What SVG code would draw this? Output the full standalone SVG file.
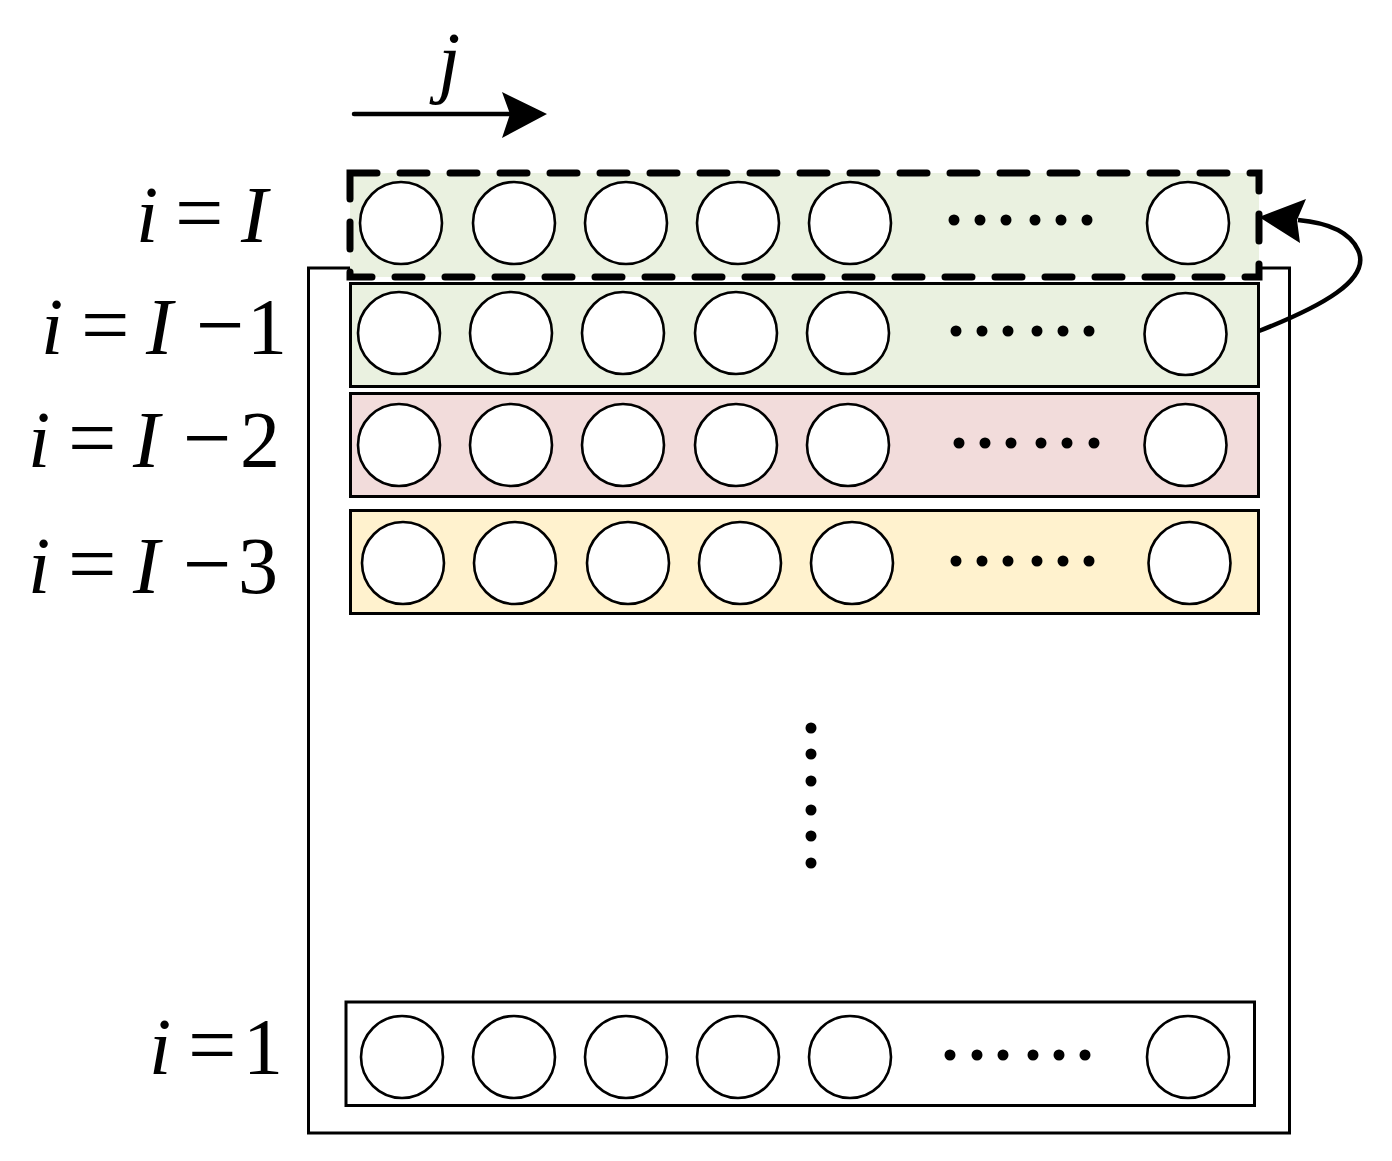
<svg xmlns="http://www.w3.org/2000/svg" width="1392" height="1161" viewBox="0 0 1392 1161">
<style>
.row{stroke:#000;stroke-width:3}
.c{fill:#fff;stroke:#000;stroke-width:2.6}
.d{fill:#000}
text{font-family:"Liberation Serif","Times New Roman",serif;font-size:80px;fill:#000}
.it{font-style:italic}
.con{fill:none;stroke:#000}
</style>
<rect width="1392" height="1161" fill="#fff"/>
<g id="frame"><rect x="308.5" y="268" width="981" height="865" fill="none" stroke="#000" stroke-width="3"/></g>

<g id="row-I">
<rect x="350" y="173" width="909" height="104" fill="#EAF1E0"/>
<rect x="350" y="173" width="909" height="104" fill="none" stroke="#000" stroke-width="7" stroke-linecap="round" stroke-dasharray="27 23"/>
<circle class="c" cx="401" cy="223" r="41"/><circle class="c" cx="514" cy="223" r="41"/><circle class="c" cx="626" cy="223" r="41"/><circle class="c" cx="738" cy="223" r="41"/><circle class="c" cx="850" cy="223" r="41"/><circle class="c" cx="1188" cy="223" r="41"/>
<circle class="d" cx="954" cy="220" r="5.5"/><circle class="d" cx="980" cy="220" r="5.5"/><circle class="d" cx="1006" cy="220" r="5.5"/><circle class="d" cx="1035" cy="220" r="5.5"/><circle class="d" cx="1061" cy="220" r="5.5"/><circle class="d" cx="1087" cy="220" r="5.5"/>
</g>

<g id="row-I-1">
<rect class="row" x="350.5" y="283.5" width="908" height="103" fill="#EAF1E0"/>
<circle class="c" cx="399" cy="333" r="41"/><circle class="c" cx="511" cy="333" r="41"/><circle class="c" cx="623" cy="333" r="41"/><circle class="c" cx="736" cy="333" r="41"/><circle class="c" cx="848" cy="333" r="41"/><circle class="c" cx="1185.5" cy="334" r="41"/>
<circle class="d" cx="956" cy="331" r="5.5"/><circle class="d" cx="982" cy="331" r="5.5"/><circle class="d" cx="1008" cy="331" r="5.5"/><circle class="d" cx="1037" cy="331" r="5.5"/><circle class="d" cx="1063" cy="331" r="5.5"/><circle class="d" cx="1089" cy="331" r="5.5"/>
</g>

<g id="row-I-2">
<rect class="row" x="350.5" y="393.5" width="908" height="103" fill="#F2DCDB"/>
<circle class="c" cx="399" cy="445" r="41"/><circle class="c" cx="511" cy="445" r="41"/><circle class="c" cx="623" cy="445" r="41"/><circle class="c" cx="736" cy="445" r="41"/><circle class="c" cx="848" cy="445" r="41"/><circle class="c" cx="1185.5" cy="445" r="41"/>
<circle class="d" cx="959" cy="443" r="5.5"/><circle class="d" cx="985" cy="443" r="5.5"/><circle class="d" cx="1011" cy="443" r="5.5"/><circle class="d" cx="1041" cy="443" r="5.5"/><circle class="d" cx="1067" cy="443" r="5.5"/><circle class="d" cx="1094" cy="443" r="5.5"/>
</g>

<g id="row-I-3">
<rect class="row" x="350.5" y="510.5" width="908" height="103" fill="#FFF2CE"/>
<circle class="c" cx="403" cy="563" r="41"/><circle class="c" cx="515" cy="563" r="41"/><circle class="c" cx="628" cy="563" r="41"/><circle class="c" cx="740" cy="563" r="41"/><circle class="c" cx="852" cy="563" r="41"/><circle class="c" cx="1189.5" cy="563" r="41"/>
<circle class="d" cx="956" cy="561" r="5.5"/><circle class="d" cx="982" cy="561" r="5.5"/><circle class="d" cx="1008" cy="561" r="5.5"/><circle class="d" cx="1037" cy="561" r="5.5"/><circle class="d" cx="1063" cy="561" r="5.5"/><circle class="d" cx="1089" cy="561" r="5.5"/>
</g>

<g id="vdots">
<circle class="d" cx="811" cy="728" r="5.5"/><circle class="d" cx="811" cy="754" r="5.5"/><circle class="d" cx="811" cy="781" r="5.5"/><circle class="d" cx="811" cy="810" r="5.5"/><circle class="d" cx="811" cy="836" r="5.5"/><circle class="d" cx="811" cy="863" r="5.5"/>
</g>

<g id="row-1">
<rect class="row" x="346" y="1002" width="908.5" height="103.5" fill="#fff"/>
<circle class="c" cx="402" cy="1057" r="41"/><circle class="c" cx="514" cy="1057" r="41"/><circle class="c" cx="626" cy="1057" r="41"/><circle class="c" cx="738" cy="1057" r="41"/><circle class="c" cx="850" cy="1057" r="41"/><circle class="c" cx="1188" cy="1057" r="41"/>
<circle class="d" cx="950" cy="1055" r="5.5"/><circle class="d" cx="977" cy="1055" r="5.5"/><circle class="d" cx="1003" cy="1055" r="5.5"/><circle class="d" cx="1033" cy="1055" r="5.5"/><circle class="d" cx="1059" cy="1055" r="5.5"/><circle class="d" cx="1085" cy="1055" r="5.5"/>
</g>

<g id="labels">
<text y="242" font-family="Liberation Serif, serif"><tspan class="it" x="136">i</tspan><tspan x="175" font-size="86">=</tspan><tspan class="it" x="241">I</tspan></text>
<text y="354" font-family="Liberation Serif, serif"><tspan class="it" x="41">i</tspan><tspan x="81" font-size="86">=</tspan><tspan class="it" x="146">I</tspan><tspan x="196" font-size="86">−</tspan><tspan x="247">1</tspan></text>
<text y="467" font-family="Liberation Serif, serif"><tspan class="it" x="28">i</tspan><tspan x="68" font-size="86">=</tspan><tspan class="it" x="133">I</tspan><tspan x="183" font-size="86">−</tspan><tspan x="240">2</tspan></text>
<text y="593" font-family="Liberation Serif, serif"><tspan class="it" x="28">i</tspan><tspan x="68" font-size="86">=</tspan><tspan class="it" x="133">I</tspan><tspan x="183" font-size="86">−</tspan><tspan x="238">3</tspan></text>
<text y="1074" font-family="Liberation Serif, serif"><tspan class="it" x="149">i</tspan><tspan x="188" font-size="86">=</tspan><tspan x="243">1</tspan></text>
<text class="it" x="438" y="88" font-family="Liberation Serif, serif">j</text>
</g>

<g id="connectors">
<line class="con" x1="354" y1="114" x2="512" y2="114" stroke-width="4.5" stroke-linecap="round"/>
<polygon points="547,114 502,92 510,114 502,138" fill="#000"/>
<path class="con" d="M1259,331 C1320,307 1372,280 1358,250 C1348,228 1320,222 1298,220" stroke-width="4.5"/>
<polygon points="1259,217 1306,199 1297,220 1300,243" fill="#000"/>
</g>
</svg>
